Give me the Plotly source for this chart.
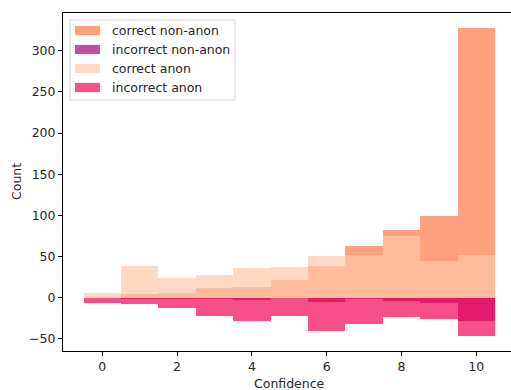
import plotly.graph_objects as go

confidence = list(range(11))
correct_non_anon = [0, 4, 6, 12, 13, 22, 38, 63, 82, 99, 327]
incorrect_non_anon = [0, -1, -1, -1, -3, 0, -5, -2, -4, -7, -28]
correct_anon = [6, 38, 24, 27, 36, 37, 51, 52, 75, 45, 52]
incorrect_anon = [-6, -8, -13, -22, -28, -22, -41, -32, -24, -26, -46]
names = ["correct non-anon", "incorrect non-anon", "correct anon", "incorrect anon"]
x_ticks = [0, 2, 4, 6, 8, 10]
y_ticks = [-50, 0, 50, 100, 150, 200, 250, 300]

colors = ["#FFA07E", "#C0509A", "#FFCAAB", "#F4055A"]
opacities = [1.0, 1.0, 0.7, 0.7]
swatch_colors = ["#FFA07E", "#C0509A", "#FFDAC4", "#F7508A"]

W, H = 511, 390
L, R, T, B = 63, 511, 13, 351


def px(x):
    return (x - L) / (R - L)


def py(y):
    return (B - y) / (B - T)


fig = go.Figure()
for name, vals, color, op in zip(names, [correct_non_anon, incorrect_non_anon, correct_anon, incorrect_anon], colors, opacities):
    fig.add_trace(go.Bar(
        x=confidence, y=vals, name=name, width=1.0,
        marker=dict(color=color, line=dict(width=0)),
        opacity=op, showlegend=False, hoverinfo="skip",
    ))

fs = 12.5
font = dict(family="DejaVu Sans", size=fs, color="#262626")

shapes = [dict(type="rect", xref="paper", yref="paper",
               x0=px(70), x1=px(235), y0=py(100), y1=py(20),
               line=dict(color="#d6d6d6", width=1), fillcolor="rgba(255,255,255,0.8)",
               layer="above")]
annotations = []
centers = [30.5, 49.5, 68.5, 87.5]
for name, c, yc in zip(names, swatch_colors, centers):
    shapes.append(dict(type="rect", xref="paper", yref="paper",
                       x0=px(75), x1=px(100), y0=py(yc + 4.6), y1=py(yc - 4.6),
                       line=dict(width=0), fillcolor=c, layer="above"))
    annotations.append(dict(text=name, xref="paper", yref="paper", x=px(110), y=py(yc),
                            xanchor="left", yanchor="middle", showarrow=False, font=font))

annotations.append(dict(text="Count", xref="paper", yref="paper", x=px(16), y=0.5,
                        textangle=-90, xanchor="center", yanchor="middle", showarrow=False, font=font))
annotations.append(dict(text="Confidence", xref="x", yref="paper", x=5.0, y=py(383),
                        xanchor="center", yanchor="middle", showarrow=False, font=font))

fig.update_layout(
    width=W, height=H,
    margin=dict(l=L, r=W - R, t=T, b=H - B, pad=0),
    paper_bgcolor="white", plot_bgcolor="white",
    barmode="overlay", bargap=0,
    font=font, showlegend=False,
    shapes=shapes, annotations=annotations,
    xaxis=dict(
        range=[-1.05, 10.93], tickvals=x_ticks, automargin=False,
        showgrid=False, zeroline=False,
        showline=True, mirror=True, linecolor="black", linewidth=1,
        ticks="outside", ticklen=4, tickcolor="black", tickfont=font,
    ),
    yaxis=dict(
        range=[-64.7, 345.7], tickvals=y_ticks, automargin=False,
        showgrid=False, zeroline=False,
        showline=True, mirror=False, linecolor="black", linewidth=1,
        ticks="outside", ticklen=4, tickcolor="black", tickfont=font,
    ),
)

fig.write_html("out.html", config={"displayModeBar": False, "staticPlot": True},
               post_script="document.body.style.margin='0';document.body.style.overflow='hidden';")
